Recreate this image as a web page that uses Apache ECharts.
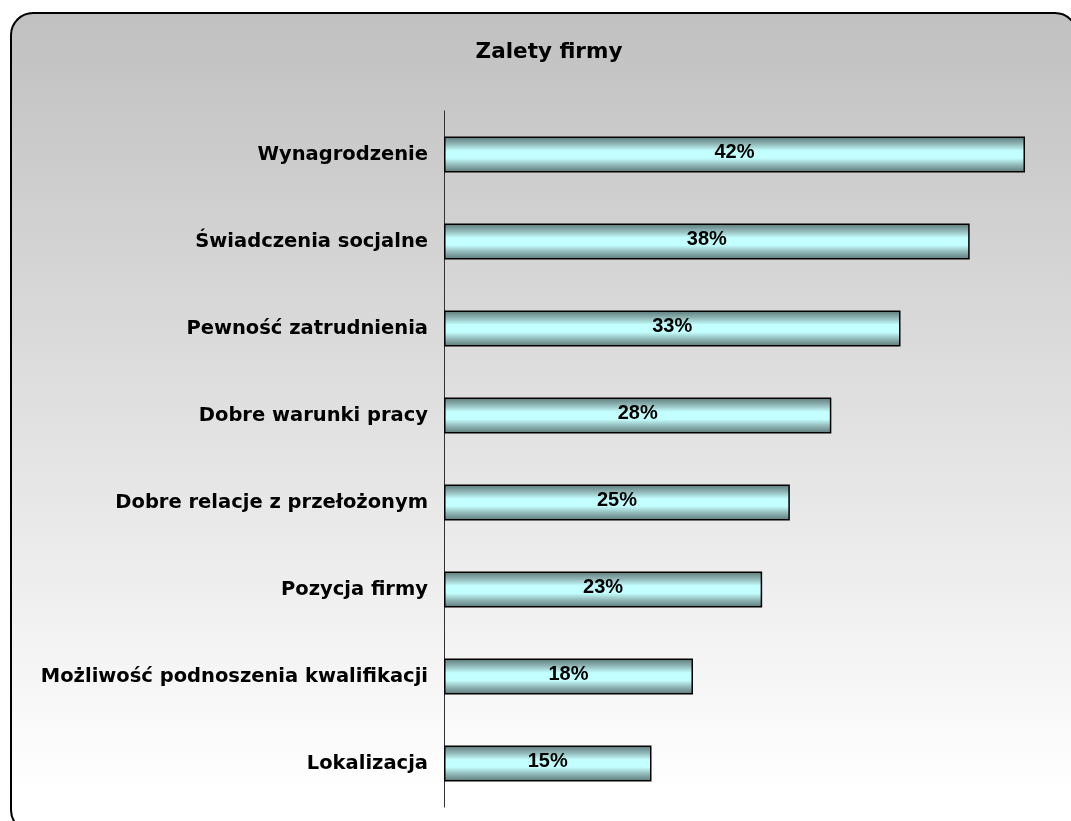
<!DOCTYPE html>
<html><head><meta charset="utf-8">
<script src="https://cdn.jsdelivr.net/npm/echarts@6/dist/echarts.min.js"></script>
<style>html,body{margin:0;padding:0;background:#fff}#c{width:1071px;height:821px}</style>
</head><body><div id="c"></div>
<script>
var categories = ['Wynagrodzenie','Świadczenia socjalne','Pewność zatrudnienia','Dobre warunki pracy','Dobre relacje z przełożonym','Pozycja firmy','Możliwość podnoszenia kwalifikacji','Lokalizacja'];
var values = [42,38,33,28,25,23,18,15];
var title = 'Zalety firmy';

var chart = echarts.init(document.getElementById('c'));
chart.setOption({
  animation:false,
  backgroundColor:'#ffffff',
  graphic:[{
    type:'rect', z:-10, silent:true,
    shape:{x:11,y:13,width:1066,height:819,r:22},
    style:{
      fill:new echarts.graphic.LinearGradient(0,0,0,1,[{offset:0,color:'#c0c0c0'},{offset:0.95,color:'#ffffff'},{offset:1,color:'#ffffff'}]),
      stroke:'#000',lineWidth:2
    }
  }],
  title:{text:title,left:544,top:36,textAlign:'center',textStyle:{fontFamily:'DejaVu Sans',fontWeight:'bold',fontSize:21.5,color:'#000'}},
  grid:{left:444,right:4.5,top:111,bottom:14,containLabel:false},
  xAxis:{type:'value',min:0,max:45,show:false},
  yAxis:{type:'category',data:categories,inverse:true,
    axisLine:{show:true,lineStyle:{color:'#333',width:1}},
    axisTick:{show:false},
    axisLabel:{margin:16,fontFamily:'DejaVu Sans',fontWeight:'bold',fontSize:19.5,color:'#000'}},
  series:[{type:'bar',data:values,barWidth:36,
    itemStyle:{
      color:new echarts.graphic.LinearGradient(0,0,0,1,[
        {offset:0,color:'#5a7878'},{offset:0.2,color:'#8fb4b4'},{offset:0.4,color:'#c4ffff'},
        {offset:0.6,color:'#c4ffff'},{offset:0.8,color:'#8fb4b4'},{offset:1,color:'#5a7878'}]),
      borderColor:'#000',borderWidth:1.5},
    label:{show:true,position:'inside',formatter:'{c}%',fontFamily:'Liberation Sans',fontWeight:'bold',fontSize:20,color:'#000',offset:[0,-2]}
  }]
});
</script></body></html>
